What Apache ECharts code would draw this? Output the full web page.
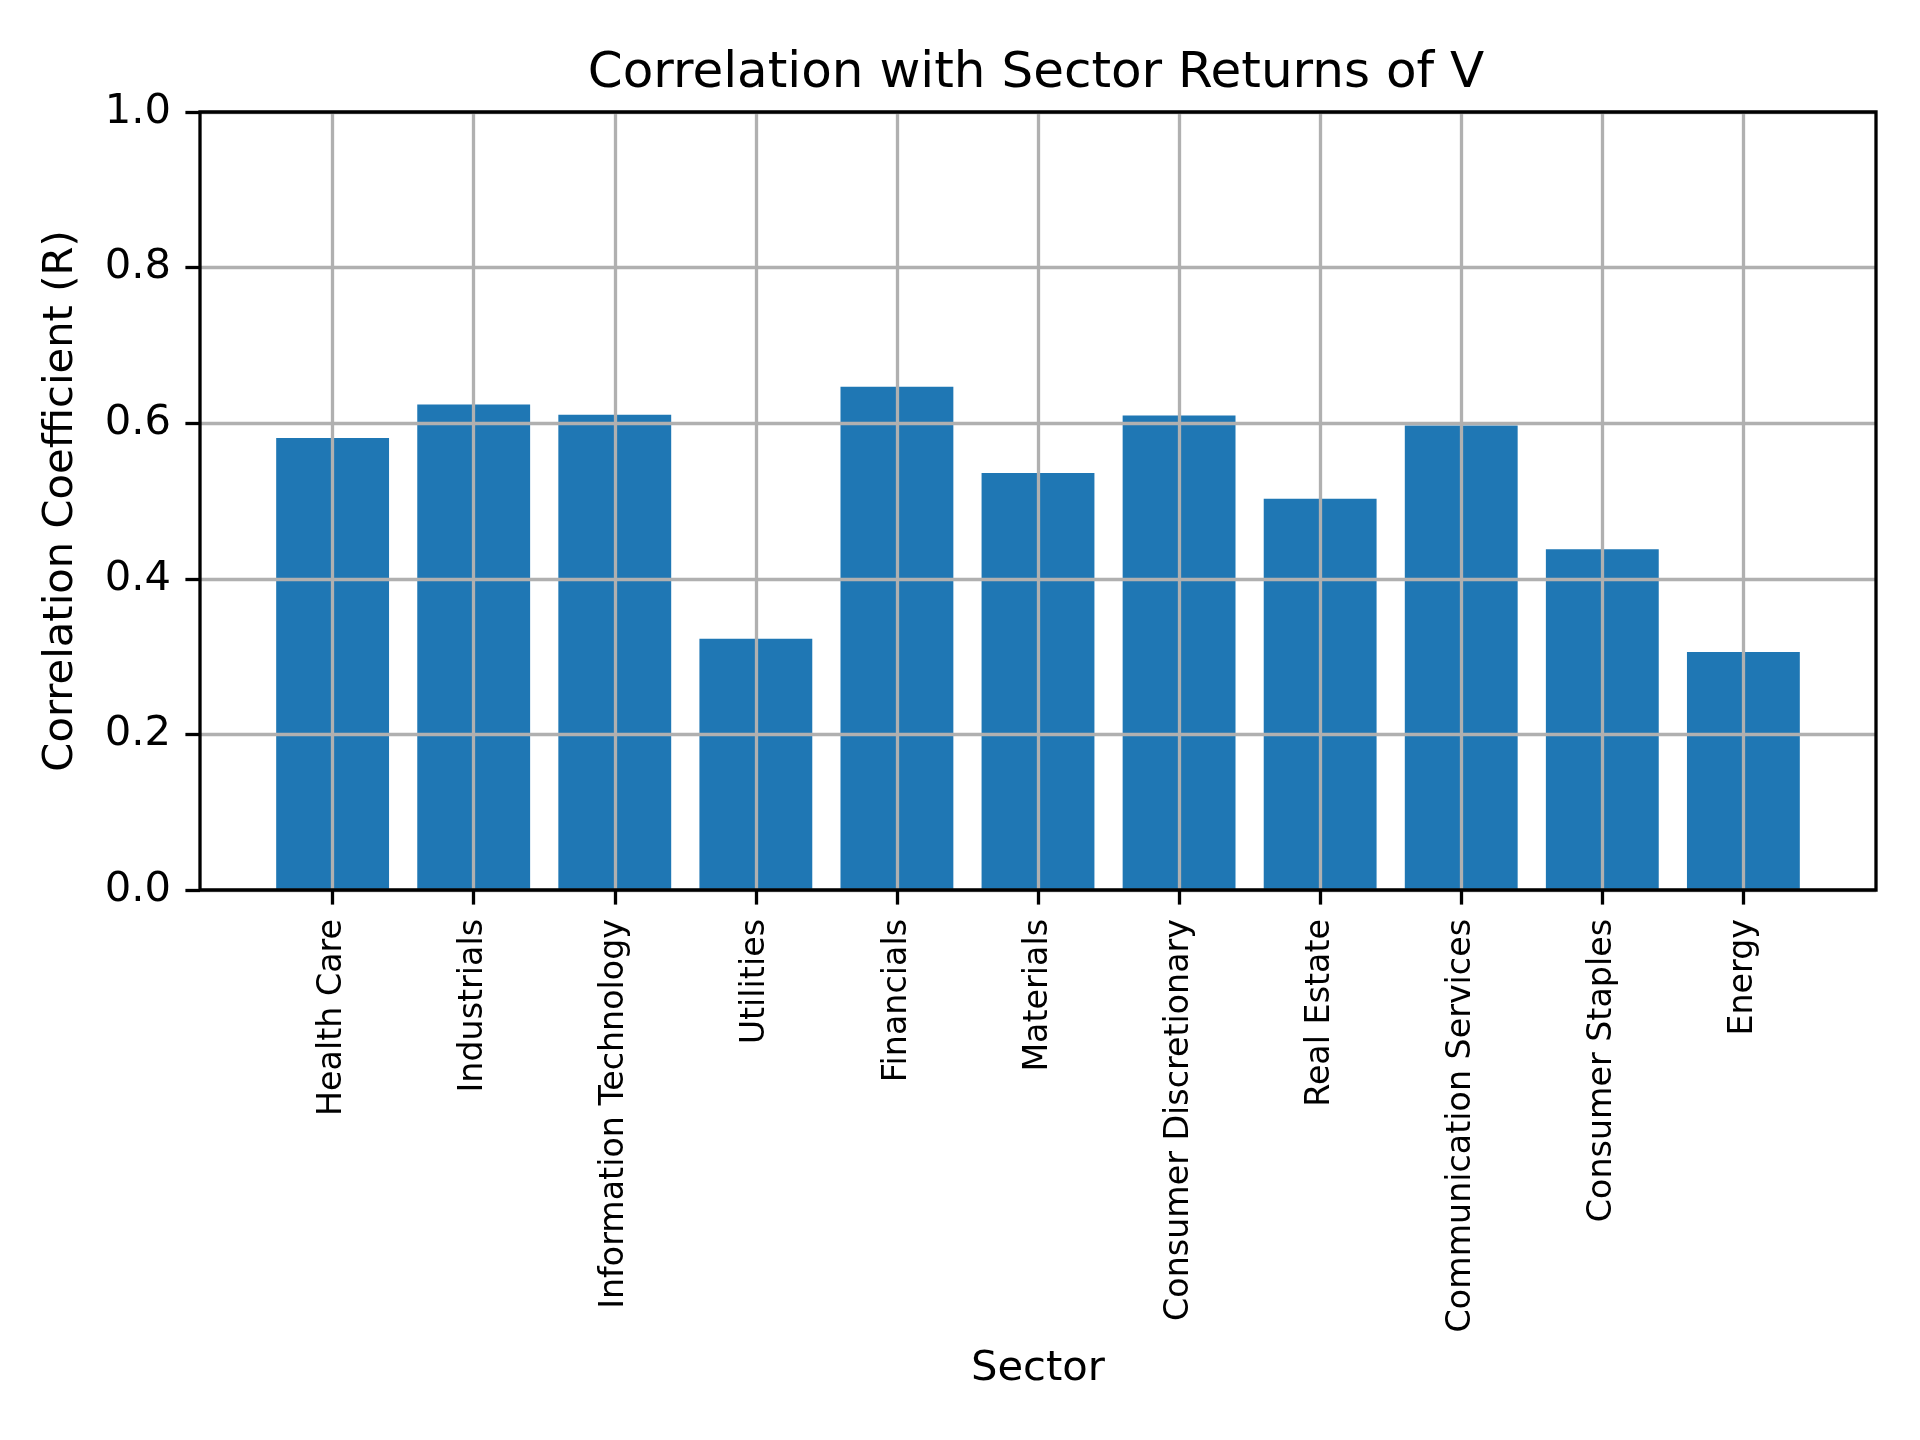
<!DOCTYPE html>
<html>
<head>
<meta charset="utf-8">
<script src="https://cdn.jsdelivr.net/npm/echarts@6/dist/echarts.min.js"></script>
<style>
html,body{margin:0;padding:0;background:#fff;}
#chart{width:1920px;height:1440px;}
</style>
</head>
<body>
<div id="chart"></div>
<script>
const categories = ["Health Care","Industrials","Information Technology","Utilities","Financials","Materials","Consumer Discretionary","Real Estate","Communication Services","Consumer Staples","Energy"];
const correlations = [0.581,0.624,0.611,0.323,0.647,0.536,0.610,0.503,0.597,0.438,0.306];
const yTicks = [0, 0.2, 0.4, 0.6, 0.8, 1.0];
const titleText = "Correlation with Sector Returns of V";
const xTitle = "Sector";
const yTitle = "Correlation Coefficient (R)";

const FONT = "DejaVu Sans";
const chart = echarts.init(document.getElementById('chart'), null, {renderer:'canvas', width:1920, height:1440});
const plotL = 200, plotT = 112, plotW = 1676, plotH = 778;
const unit = plotW / 11.88;
const innerL = plotL + 0.94 * unit;
const innerW = 10 * unit;

chart.setOption({
  animation: false,
  backgroundColor: '#ffffff',
  textStyle: {fontFamily: FONT},
  grid: [
    {left: plotL, top: plotT, width: plotW, height: plotH, containLabel: false},
    {left: innerL, top: plotT, width: innerW, height: plotH, containLabel: false}
  ],
  xAxis: [
    {gridIndex: 0, type: 'value', min: 0, max: 1, show: false},
    {
      gridIndex: 1, type: 'category', data: categories, boundaryGap: false, z: 5,
      axisLine: {show: false},
      axisTick: {show: true, length: 14.6, interval: 0, lineStyle: {color: '#000', width: 3.3}},
      axisLabel: {rotate: 90, interval: 0, margin: 29, fontSize: 33.3, color: '#000', fontFamily: FONT},
      splitLine: {show: true, interval: 0, lineStyle: {color: '#b0b0b0', width: 3.3}}
    }
  ],
  yAxis: [
    {
      gridIndex: 0, type: 'value', min: yTicks[0], max: yTicks[yTicks.length - 1], interval: 0.2, z: 5,
      axisLine: {show: false},
      axisTick: {show: true, length: 14.6, lineStyle: {color: '#000', width: 3.3}},
      axisLabel: {margin: 29, fontSize: 41.7, color: '#000', fontFamily: FONT, formatter: v => v.toFixed(1)},
      splitLine: {show: true, lineStyle: {color: '#b0b0b0', width: 3.3}}
    },
    {gridIndex: 1, type: 'value', min: 0, max: 1, show: false}
  ],
  series: [{
    type: 'bar', xAxisIndex: 1, yAxisIndex: 1,
    data: correlations, barWidth: 0.8 * unit, clip: false,
    itemStyle: {color: '#1f77b4'}
  }],
  graphic: [
    {type: 'rect', z: 100, shape: {x: plotL, y: plotT, width: plotW, height: plotH},
     style: {fill: 'none', stroke: '#000', lineWidth: 3.3}},
    {type: 'text', z: 100, x: 1036, y: 74,
     style: {text: titleText, font: '50px "DejaVu Sans"', fill: '#000', textAlign: 'center', textVerticalAlign: 'middle'}},
    {type: 'text', z: 100, x: plotL + plotW / 2, y: 1369,
     style: {text: xTitle, font: '41.7px "DejaVu Sans"', fill: '#000', textAlign: 'center', textVerticalAlign: 'middle'}},
    {type: 'text', z: 100, x: 61, y: plotT + plotH / 2, rotation: Math.PI / 2,
     style: {text: yTitle, font: '41.7px "DejaVu Sans"', fill: '#000', textAlign: 'center', textVerticalAlign: 'middle'}}
  ]
});
</script>
</body>
</html>
